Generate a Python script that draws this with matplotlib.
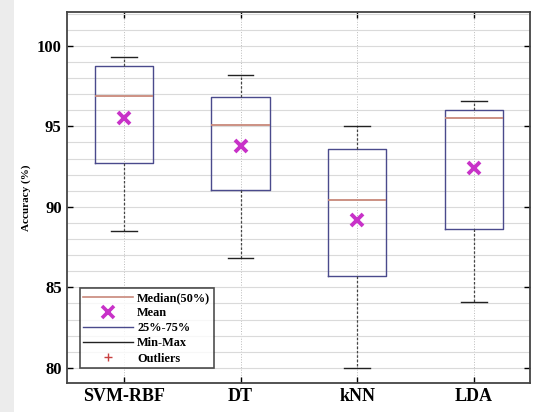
import matplotlib
matplotlib.use("Agg")
import matplotlib.pyplot as plt
from matplotlib.lines import Line2D
from matplotlib.patches import Rectangle

# values
classifiers = ["SVM-RBF", "DT", "kNN", "LDA"]
whisker_lo = [88.5, 86.8, 80.0, 84.1]
q1 = [92.75, 91.05, 85.7, 88.6]
medians = [96.9, 95.1, 90.4, 95.5]
q3 = [98.75, 96.8, 93.6, 96.0]
whisker_hi = [99.3, 98.2, 95.0, 96.6]
means = [95.5, 93.8, 89.2, 92.4]

BOX_COLOR = "#4a4a8c"
MED_COLOR = "#c8887a"
MEAN_COLOR = "#c832c8"

plt.rcParams["font.family"] = ["Liberation Serif", "DejaVu Serif"]
plt.rcParams["font.weight"] = "bold"

fig = plt.figure(figsize=(5.37, 4.12), dpi=100)
fig.patches.append(Rectangle((0, 0), 14 / 537, 1, transform=fig.transFigure,
                             facecolor="#ececec", edgecolor="none", zorder=0))
ax = fig.add_axes([0.124, 0.070, 0.863, 0.901])

stats = []
for i, name in enumerate(classifiers):
    stats.append(dict(label=name, whislo=whisker_lo[i], q1=q1[i], med=medians[i],
                      q3=q3[i], whishi=whisker_hi[i], mean=means[i], fliers=[]))

positions = list(range(1, len(classifiers) + 1))
ax.bxp(stats, positions=positions, widths=0.5, showmeans=False, showfliers=False,
       boxprops=dict(color=BOX_COLOR, linewidth=1.0),
       medianprops=dict(color=MED_COLOR, linewidth=1.3),
       whiskerprops=dict(color="#444444", linewidth=0.9, linestyle=(0, (2, 1.5))),
       capprops=dict(color="#222222", linewidth=1.0), capwidths=0.22)
ax.plot(positions, means, linestyle="none", marker="x", color=MEAN_COLOR,
        markersize=8, markeredgewidth=2.8, zorder=5)

ax.set_xlim(0.51, 4.48)
ax.set_ylim(79.05, 102.1)
ax.set_yticks([80, 85, 90, 95, 100])
ax.set_yticks(range(80, 103), minor=True)
ax.set_xticks(positions)
ax.set_xticklabels(classifiers, fontsize=13, fontweight="bold")
ax.tick_params(axis="y", labelsize=12)
ax.tick_params(direction="in", top=True, right=True, length=4, width=1.0)
ax.tick_params(which="minor", length=0)
ax.grid(True, axis="y", which="both", color="#dadada", linewidth=0.8)
ax.grid(True, axis="x", color="#bbbbbb", linewidth=0.7, linestyle=":")
ax.set_axisbelow(True)
for sp in ax.spines.values():
    sp.set_linewidth(1.3)
    sp.set_color("#444444")
ax.set_ylabel("Accuracy (%)", fontsize=8, fontweight="bold", labelpad=4)

handles = [
    Line2D([], [], color=MED_COLOR, linewidth=1.2),
    Line2D([], [], color=MEAN_COLOR, marker="x", linestyle="none",
           markersize=8, markeredgewidth=2.6),
    Line2D([], [], color=BOX_COLOR, linewidth=1.0),
    Line2D([], [], color="#222222", linewidth=1.0),
    Line2D([], [], color="#c84040", marker="+", linestyle="none", markersize=6),
]
labels = ["Median(50%)", "Mean", "25%-75%", "Min-Max", "Outliers"]
leg = ax.legend(handles, labels, loc="lower left", bbox_to_anchor=(0.028, 0.04),
                fontsize=8.8, frameon=True, fancybox=False, edgecolor="#222222",
                handlelength=4.1, handletextpad=0.3, labelspacing=0.26,
                borderpad=0.3, borderaxespad=0)
leg.get_frame().set_linewidth(1.2)

fig.savefig("out.png", dpi=100)
